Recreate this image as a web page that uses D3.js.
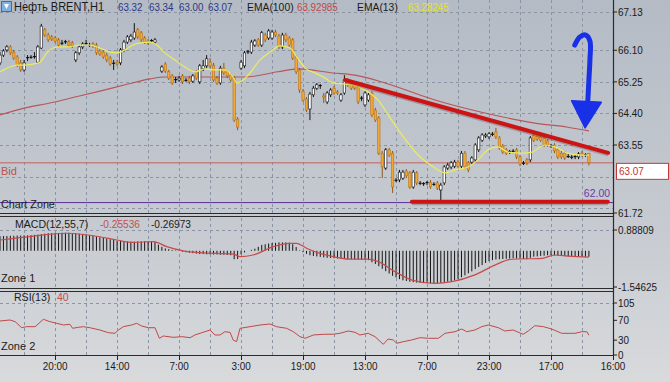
<!DOCTYPE html>
<html><head><meta charset="utf-8">
<script src="https://cdn.jsdelivr.net/npm/d3@7"></script>
<style>html,body{margin:0;padding:0;background:#c8ccd2;overflow:hidden}</style>
</head><body><svg id="c" width="670" height="382"></svg>
<script>
// ---------- DATA ----------
const opens = [65.76,65.97,66.11,66.19,66.05,65.92,65.76,65.57,65.89,65.92,
65.92,65.78,66.16,66.65,66.51,66.46,66.43,66.38,66.30,66.32,
66.32,66.30,65.84,66.03,66.19,66.27,66.24,66.27,66.24,66.08,
66.05,65.97,65.89,65.76,65.78,65.76,66.11,66.32,66.38,66.43,
66.65,66.57,66.43,66.35,66.35,66.32,null,65.54,65.73,65.52,
65.41,65.30,65.30,65.41,65.30,65.35,65.27,65.52,65.25,65.60,
65.68,65.78,65.70,65.35,65.22,65.62,65.52,65.43,65.35,64.25,
65.62,65.68,66.05,66.05,66.24,66.38,66.24,66.51,66.43,66.43,
66.59,66.48,66.19,66.51,66.43,66.38,65.92,65.57,65.00,64.79,
64.52,64.90,65.08,65.14,64.87,64.71,64.90,65.08,64.98,64.76,
64.95,65.30,65.22,65.19,65.11,64.82,64.63,64.76,64.95,64.49,
64.28,63.33,62.93,63.42,63.33,62.61,62.61,62.66,62.85,62.80,
62.42,62.80,62.53,62.50,62.53,62.55,62.50,62.53,62.34,62.53,
62.93,62.96,62.98,63.09,62.98,63.33,63.07,63.09,63.15,63.42,
63.68,63.79,63.77,63.85,63.90,63.74,63.52,63.42,63.36,63.39,
63.42,63.23,63.07,63.15,63.15,63.82,63.79,63.77,63.74,63.66,
63.52,63.55,63.42,63.33,63.33,63.25,63.23,63.23,63.23,63.33,
63.28,63.32];
const closes = [65.97,66.08,66.19,66.03,65.89,65.70,65.57,65.76,65.90,65.91,
65.93,66.19,66.75,66.51,66.38,66.40,66.35,66.24,66.29,66.33,
66.24,66.22,66.03,66.19,66.27,66.28,66.23,66.22,66.03,66.00,
65.92,65.84,65.73,65.75,65.73,66.11,66.32,66.46,66.48,66.59,
66.46,66.38,66.32,66.30,66.36,66.38,null,65.65,65.54,65.35,
65.22,65.31,65.35,65.25,65.29,65.25,65.41,65.35,65.68,65.68,
65.87,65.68,65.30,65.22,65.62,65.49,65.41,65.30,64.22,64.03,
65.78,66.03,66.06,66.32,66.35,66.24,66.57,66.38,66.62,66.59,
66.51,66.19,66.51,66.38,66.24,65.89,65.52,65.03,64.76,64.49,
64.92,65.08,65.17,65.15,64.84,64.95,65.03,64.95,64.95,64.90,
65.30,65.17,65.08,65.08,64.71,64.81,64.95,64.90,64.36,64.22,
63.33,62.96,63.42,63.28,62.42,62.60,62.82,62.82,62.72,62.42,
62.82,62.53,62.52,62.51,62.54,62.42,62.49,62.39,62.47,62.96,
63.01,63.07,63.09,62.98,63.33,62.96,62.88,63.20,63.55,63.74,
63.82,63.82,63.85,63.84,63.77,63.47,63.36,63.33,63.37,63.38,
63.23,63.04,63.06,63.07,63.74,63.68,63.71,63.68,63.55,63.55,
63.53,63.39,63.23,63.23,63.20,63.24,63.22,63.24,63.31,63.28,
63.29,63.07];
const highs = [66.05,66.13,66.24,66.24,66.11,65.97,65.84,65.84,65.97,65.97,
66.05,66.24,66.81,66.70,66.57,66.51,66.48,66.43,66.38,66.38,
66.38,66.35,66.08,66.24,66.32,66.38,66.30,66.32,66.30,66.13,
66.11,66.03,65.95,65.84,65.84,66.16,66.38,66.51,66.54,66.83,
66.70,66.62,66.48,66.40,66.40,66.43,null,65.70,65.78,65.57,
65.46,65.38,65.41,65.46,65.35,65.41,65.46,65.57,65.73,65.84,
65.97,65.89,65.76,65.41,65.68,65.76,65.57,65.49,65.41,64.30,
65.84,66.08,66.11,66.38,66.40,66.43,66.62,66.57,66.67,66.65,
66.65,66.54,66.57,66.57,66.48,66.43,65.97,65.62,65.06,64.84,
64.98,65.14,65.22,65.19,64.95,65.00,65.08,65.14,65.03,64.95,
65.43,65.35,65.27,65.25,65.17,64.87,65.00,64.95,65.00,64.55,
64.33,63.39,63.47,63.47,63.39,62.66,62.88,62.88,62.90,62.85,
62.88,62.85,62.58,62.55,62.58,62.61,62.55,62.58,62.53,63.01,
63.07,63.12,63.15,63.15,63.39,63.39,63.12,63.25,63.60,63.79,
63.87,63.87,63.90,63.90,64.01,63.79,63.58,63.47,63.42,63.44,
63.47,63.28,63.12,63.20,63.79,63.87,63.85,63.82,63.79,63.71,
63.58,63.60,63.47,63.39,63.39,63.31,63.28,63.28,63.36,63.39,
63.33,63.34];
const lows = [65.70,65.92,66.05,65.97,65.84,65.65,65.52,65.52,65.81,65.87,
65.87,65.76,66.13,66.46,66.32,66.35,66.30,66.19,66.24,66.27,
66.19,66.16,65.78,65.97,66.13,66.22,66.19,66.16,65.97,65.95,
65.87,65.78,65.68,65.57,65.68,65.70,66.05,66.27,66.32,66.38,
66.40,66.32,66.27,66.24,66.30,66.27,null,65.49,65.49,65.30,
65.17,65.22,65.25,65.19,65.25,65.19,65.22,65.30,65.19,65.54,
65.62,65.62,65.25,65.17,65.17,65.43,65.35,65.25,64.17,63.95,
65.57,65.62,66.00,66.00,66.19,66.19,66.19,66.32,66.38,66.38,
66.46,66.13,66.13,66.32,66.19,65.84,65.46,64.95,64.71,64.44,
64.22,64.84,65.03,65.06,64.68,64.65,64.84,64.90,64.90,64.71,
64.90,65.11,65.03,65.03,64.65,64.73,64.57,64.71,64.30,64.17,
63.28,62.66,62.88,63.23,62.26,62.55,62.55,62.61,62.66,62.37,
62.37,62.47,62.47,62.45,62.47,62.37,62.45,62.34,62.02,62.47,
62.88,62.90,62.93,62.93,62.93,62.90,62.82,63.04,63.09,63.36,
63.63,63.74,63.71,63.79,63.71,63.42,63.31,63.28,63.31,63.33,
63.17,62.98,63.01,63.01,63.09,63.63,63.66,63.63,63.50,63.50,
63.47,63.33,63.17,63.17,63.15,63.20,63.17,63.17,63.17,63.23,
63.23,63.00];

// EMA(13) and EMA(100), read at sample bar positions
const ema13Idx = [0,2.9,4.9,7.3,9.6,11.6,13.6,15.4,17.4,19.5,23.2,26.1,29,31.9,34,36.3,38.6,40.7,43.6,45.6,47.9,50.8,53.7,56.6,59.5,62.4,65.3,67.7,68.8,70.6,72.6,75.5,78.4,81.3,84.2,86.2,88.6,91.5,94.4,96.7,102.2,106.9,109.8,112.7,116.7,121.4,126.3,129.2,132.1,135.9,138.8,141.7,144.6,147.5,151.6,154.5,158.2,161.1,164.9,169,171];
const ema13Val = [65.52,65.65,65.70,65.70,65.73,65.78,66.03,66.16,66.19,66.19,66.24,66.24,66.16,66.05,66.03,66.11,66.24,66.30,66.32,66.24,66.03,65.84,65.65,65.52,65.60,65.57,65.57,65.38,65.22,65.30,65.49,65.84,66.05,66.22,66.16,65.92,65.62,65.49,65.35,65.22,65.17,64.98,64.76,64.36,63.82,63.28,62.93,62.80,62.88,62.96,63.15,63.42,63.50,63.36,63.33,63.36,63.55,63.50,63.33,63.28,63.28];
const ema100Idx = [0,7.3,14.5,21.8,29,36.3,43.6,48,66.2,71.1,80.7,86.5,96.7,103.1,111.8,126.3,140.8,155.3,164.9,171];
const ema100Val = [64.36,64.55,64.68,64.84,65.00,65.17,65.33,65.38,65.38,65.38,65.52,65.60,65.49,65.43,65.22,64.76,64.41,64.14,64.03,63.93];

// MACD(12,55,7): main (histogram) per bar, signal at sample positions
const macdMain = [0.62,0.63,0.63,0.64,0.64,0.65,0.65,0.66,0.66,0.67,
0.68,0.69,0.71,0.73,0.75,0.75,0.76,0.76,0.77,0.77,
0.77,0.76,0.75,0.73,0.72,0.70,0.67,0.64,0.61,0.58,
0.55,0.52,0.49,0.46,0.43,0.42,0.41,0.40,0.39,0.39,
0.40,0.40,0.41,0.41,0.40,0.39,0.26,0.17,0.10,0.07,
0.04,0.02,-0.01,-0.04,-0.06,-0.08,-0.10,-0.12,-0.14,-0.14,
-0.15,-0.15,-0.16,-0.16,-0.17,-0.17,-0.18,-0.19,-0.36,-0.35,
-0.15,-0.07,0.00,0.04,0.09,0.17,0.25,0.28,0.31,0.33,
0.34,0.36,0.36,0.36,0.35,0.28,0.16,0.02,-0.06,-0.13,
-0.19,-0.22,-0.24,-0.26,-0.28,-0.30,-0.31,-0.32,-0.33,-0.34,
-0.35,-0.36,-0.36,-0.37,-0.37,-0.38,-0.38,-0.40,-0.49,-0.56,
-0.66,-0.77,-0.87,-0.97,-1.07,-1.14,-1.21,-1.26,-1.29,-1.32,
-1.34,-1.36,-1.37,-1.38,-1.38,-1.39,-1.39,-1.38,-1.37,-1.34,
-1.32,-1.29,-1.25,-1.20,-1.13,-1.05,-0.96,-0.88,-0.78,-0.69,
-0.61,-0.52,-0.44,-0.40,-0.37,-0.36,-0.35,-0.34,-0.33,-0.32,
-0.33,-0.34,-0.35,-0.36,-0.30,-0.25,-0.24,-0.22,-0.21,-0.19,
-0.19,-0.20,-0.21,-0.22,-0.23,-0.24,-0.24,-0.25,-0.25,-0.25,
-0.26,-0.255];
const sigIdx = [0,9.7,19.4,29,33.9,38.7,44.5,48.4,53.2,58,67.8,69.7,73.5,79.4,84.2,86.1,89,92.9,96.8,102,106.8,109.8,114.7,119.6,126.3,131.2,137.9,143.7,148.6,157.4,161.1,165,171];
const sigVal = [0.46,0.63,0.75,0.60,0.46,0.36,0.39,0.18,0.0,-0.08,-0.14,-0.25,-0.18,0.18,0.32,0.32,0.11,-0.11,-0.25,-0.36,-0.36,-0.46,-0.89,-1.25,-1.39,-1.32,-1.03,-0.61,-0.36,-0.32,-0.18,-0.23,-0.27];

// RSI(13)
const rsiIdx = [0,2.9,4.4,6.3,7.7,10.2,12.6,14.5,16.5,18.4,20.3,21.1,22.7,24.2,26.1,29,31.5,33.4,34.4,35.8,38.2,39.7,41.1,43.1,45,46.3,47.4,50.3,52.8,55.2,56.6,58.6,61,62.4,63.9,65.3,66.8,67.7,68.7,69.7,72.6,75.5,78.4,80.3,83.2,85.2,87.1,88.6,91,93.9,96.8,98.7,101.1,103.1,104.5,106.9,108.9,111.3,112.7,114.2,115.2,117.1,119.5,122,124.4,127.3,129.2,132.1,134.1,135.5,137.9,139.9,141.8,144.7,146.6,149,151.9,153.4,155.3,157.8,160.2,163.1,167,168.9,170.4,171];
const rsiVal = [68.7,70.7,67.3,55.1,57.2,57.2,72.1,67.3,64,60.6,62,53.9,55.9,57.2,55.1,50.5,45,43.8,50.5,57.2,60.6,64,58.6,55.1,55.1,33.7,38.4,35.7,37,35,40.4,45,50.5,40.4,40.4,47,45.8,30.3,26.9,53.9,57.2,60.6,62.6,57.2,53.9,47,37,33.7,40.4,41.8,42,43.8,48.5,45.8,40.4,43.8,37,21.6,32.3,30.3,23.6,26.9,30.3,35,33.7,33.7,43.8,47,52.5,47,50.5,57.2,60.6,55.1,48.5,50.5,41.8,48.5,59.2,57.2,52.5,43.8,43.8,47,47,40];

// axes / labels
const priceTicks = [67.13,66.10,65.25,64.40,63.55,61.72];
const priceGrid = [67.13,66.10,65.25,64.40,63.55,62.70,61.85];
const macdTicks = [0.88809,-1.54625];
const macdTickLabels = ["0.88809","-1.54625"];
const rsiTicks = [105,70,30,0];
const timeLabels = ["20:00","14:00","7:00","3:00","19:00","13:00","7:00","23:00","17:00","16:00"];
const timeIdx = [16,34,52,70,88,106,124,142,160,178];
const bidPrice = 63.07, zonePrice = 62.00;
const ema100Last = "63.92985", ema13Last = "63.28245";
const macdLast = "-0.25536", signalLast = "-0.26973", rsiLast = "40";
// annotations (bar index, price)
const trendLine = [[100.2,65.30],[176.6,63.34]];
const supportLine = [[119.6,62.02],[176.5,62.02]];
const arrowShaft = [[166.9,66.24],[168.4,66.46],[170.1,66.51],[171.3,66.35],[171.3,65.84],[171.0,65.30],[170.7,64.76]];
const arrowHead = [[166.0,64.74],[174.6,64.70],[169.9,64.01]];

// ---------- RENDER ----------
const W=670,H=382, AX=613;
const FONT="'Liberation Sans', Arial, sans-serif";
const svg=d3.select('#c');
const defs=svg.append('defs');
const gr=defs.append('linearGradient').attr('id','bg').attr('x1',0).attr('y1',0).attr('x2',0).attr('y2',1);
gr.append('stop').attr('offset','0%').attr('stop-color','#b4bbc5');
gr.append('stop').attr('offset','60%').attr('stop-color','#c7cbd1');
gr.append('stop').attr('offset','100%').attr('stop-color','#d8dadc');
svg.append('rect').attr('width',W).attr('height',H).attr('fill','url(#bg)');
defs.append('clipPath').attr('id','cm').append('rect').attr('x',0).attr('y',0).attr('width',AX).attr('height',213);
defs.append('clipPath').attr('id','cd').append('rect').attr('x',0).attr('y',218).attr('width',AX).attr('height',70);
defs.append('clipPath').attr('id','cr').append('rect').attr('x',0).attr('y',292).attr('width',AX).attr('height',63);

const x=d3.scaleLinear().domain([0,178]).range([0,AX]);
const yP=d3.scaleLinear().domain([61.72,67.13]).range([213,12]);
const yM=d3.scaleLinear().domain([-1.54625,0.88809]).range([287,230]);
const yR=d3.scaleLinear().domain([0,105]).range([355,303]);

function label(p,tx,ty,s,fill,anchor,size,sx){
  return p.append('text').attr('transform',`translate(${tx},${ty}) scale(${sx||0.9},1)`)
    .attr('text-anchor',anchor||'start').attr('font-family',FONT).attr('font-size',size||11)
    .attr('fill',fill||'#1a1a1a').text(s);
}
const crisp=v=>Math.round(v)+0.5;

// grid
const gridC='#8a94a2';
const vIdx=d3.range(7,179,9);
const grid=svg.append('g').attr('stroke',gridC).attr('stroke-dasharray','3,3').attr('stroke-width',1);
[[0,213],[218,288],[292,355]].forEach(([a,b])=>{
  grid.selectAll(null).data(vIdx.filter(i=>i<178)).enter().append('line')
    .attr('x1',d=>crisp(x(d))).attr('x2',d=>crisp(x(d))).attr('y1',a).attr('y2',b);
});
grid.selectAll(null).data(priceGrid).enter().append('line')
  .attr('x1',0).attr('x2',AX).attr('y1',d=>crisp(yP(d))).attr('y2',d=>crisp(yP(d)));
grid.append('line').attr('x1',0).attr('x2',AX).attr('y1',crisp(yM(macdTicks[0]))).attr('y2',crisp(yM(macdTicks[0])));
grid.append('line').attr('x1',0).attr('x2',AX).attr('y1',crisp(yR(105))).attr('y2',crisp(yR(105)));

// main panel
const main=svg.append('g').attr('clip-path','url(#cm)');
main.append('line').attr('x1',0).attr('x2',AX).attr('y1',yP(bidPrice)).attr('y2',yP(bidPrice)).attr('stroke','#c46060').attr('stroke-width',1);
main.append('line').attr('x1',0).attr('x2',AX).attr('y1',yP(zonePrice)).attr('y2',yP(zonePrice)).attr('stroke','#5a2a9a').attr('stroke-width',1);

const ema100=ema100Idx.map((d,i)=>[d,ema100Val[i]]);
const ema13=ema13Idx.map((d,i)=>[d,ema13Val[i]]);
const lineP=d3.line().x(d=>x(d[0])).y(d=>yP(d[1])).curve(d3.curveMonotoneX);
main.append('path').attr('d',lineP(ema100)).attr('fill','none').attr('stroke','#b54a4e').attr('stroke-width',1.1).attr('opacity',0.9);

// candles
const candles=opens.map((o,i)=>({i,o,h:highs[i],l:lows[i],c:closes[i]})).filter(d=>d.o!=null);
const cg=main.append('g');
candles.forEach(d=>{
  const cx=x(d.i);
  const doji=Math.abs(d.o-d.c)<0.015;
  const bull=d.c>d.o;
  const wc=doji?'#111':(bull?'#111':'#8a5a1c');
  cg.append('line').attr('x1',cx).attr('x2',cx).attr('y1',yP(d.h)).attr('y2',yP(d.l)).attr('stroke',wc).attr('stroke-width',1);
  if(doji){
    cg.append('line').attr('x1',cx-1.5).attr('x2',cx+1.5).attr('y1',yP(d.c)).attr('y2',yP(d.c)).attr('stroke','#111').attr('stroke-width',1.2);
  } else {
    const top=yP(Math.max(d.o,d.c)), bot=yP(Math.min(d.o,d.c));
    cg.append('rect').attr('x',cx-1.2).attr('width',2.4).attr('y',top).attr('height',Math.max(0.8,bot-top))
      .attr('fill',bull?'#ffffff':'#f2a636').attr('stroke',bull?'#111':'#b97418').attr('stroke-width',0.6);
  }
});
main.append('path').attr('d',lineP(ema13)).attr('fill','none').attr('stroke','#ecec5c').attr('stroke-width',1.2);

// annotations
const lineL=d3.line().x(d=>x(d[0])).y(d=>yP(d[1]));
[trendLine,supportLine].forEach(L=>{
  svg.append('path').attr('d',lineL(L)).attr('transform','translate(0,1.5)').attr('stroke','rgba(60,20,20,0.25)').attr('stroke-width',4).attr('fill','none');
  svg.append('path').attr('d',lineL(L)).attr('stroke','#cc1414').attr('stroke-width',4).attr('fill','none').attr('stroke-linecap','round');
});
svg.append('path').attr('d',d3.line().x(d=>x(d[0])).y(d=>yP(d[1])).curve(d3.curveCatmullRom)(arrowShaft))
  .attr('stroke','#1830e8').attr('stroke-width',5).attr('fill','none').attr('stroke-linecap','round');
svg.append('path').attr('d',lineL(arrowHead)+'Z').attr('fill','#1830e8').attr('stroke','#1830e8').attr('stroke-width',1.5).attr('stroke-linejoin','round');

// main texts
label(svg,1,175,'Bid','#c0504d',null,11,1);
label(svg,1,208,'Chart Zone','#1a1a1a',null,11,0.98);
label(svg,610,197,zonePrice.toFixed(2),'#6a3aa8','end',11,0.95);

// MACD panel
const md=svg.append('g').attr('clip-path','url(#cd)');
md.selectAll(null).data(macdMain).enter().append('line')
  .attr('x1',(d,i)=>x(i)).attr('x2',(d,i)=>x(i)).attr('y1',yM(0)).attr('y2',d=>yM(d))
  .attr('stroke','#141414').attr('stroke-width',1);
const sig=sigIdx.map((d,i)=>[d,sigVal[i]]);
md.append('path').attr('d',d3.line().x(d=>x(d[0])).y(d=>yM(d[1])).curve(d3.curveMonotoneX)(sig))
  .attr('fill','none').attr('stroke','#c84a4a').attr('stroke-width',1.2);
label(svg,15,228,'MACD(12,55,7)','#1a1a1a',null,11,0.96);
label(svg,100,228,macdLast,'#c0504d',null,11,0.92);
label(svg,151,228,signalLast,'#1a1a1a',null,11,0.92);
label(svg,1,282,'Zone 1','#1a1a1a',null,11,1);

// RSI panel
const rs=svg.append('g').attr('clip-path','url(#cr)');
const rsi=rsiIdx.map((d,i)=>[d,rsiVal[i]]);
rs.append('path').attr('d',d3.line().x(d=>x(d[0])).y(d=>yR(d[1]))(rsi))
  .attr('fill','none').attr('stroke','#c04848').attr('stroke-width',1);
label(svg,14,301,'RSI(13)','#1a1a1a',null,11,0.96);
label(svg,57,301,rsiLast,'#c0504d',null,11,0.95);
label(svg,1,350,'Zone 2','#1a1a1a',null,11,1);

// separators
const sep=svg.append('g').attr('stroke','#2b2b2b');
[213.5,216.5,288.5,291.5,355.5].forEach(y=>sep.append('line').attr('x1',0).attr('x2',AX).attr('y1',y).attr('y2',y).attr('stroke-width',1.2));
sep.append('line').attr('x1',AX+0.5).attr('x2',AX+0.5).attr('y1',0).attr('y2',356).attr('stroke-width',1.2);

const ax=svg.append('g');
priceTicks.forEach(p=>{
  ax.append('line').attr('x1',AX).attr('x2',AX+4).attr('y1',yP(p)).attr('y2',yP(p)).attr('stroke','#222');
  label(ax,AX+5,yP(p)+4,p.toFixed(2),'#1a1a1a');
});
macdTicks.forEach((p,i)=>{
  ax.append('line').attr('x1',AX).attr('x2',AX+4).attr('y1',yM(p)).attr('y2',yM(p)).attr('stroke','#222');
  label(ax,AX+5,yM(p)+4,macdTickLabels[i],'#1a1a1a');
});
rsiTicks.forEach(p=>{
  ax.append('line').attr('x1',AX).attr('x2',AX+4).attr('y1',yR(p)).attr('y2',yR(p)).attr('stroke','#222');
  label(ax,AX+5,yR(p)+4,String(p),'#1a1a1a');
});
ax.append('rect').attr('x',616.5).attr('y',yP(bidPrice)+0.5).attr('width',52).attr('height',16).attr('fill','#ffffff').attr('stroke','#c03838');
label(ax,619,yP(bidPrice)+12.5,bidPrice.toFixed(2),'#c03030');

timeIdx.forEach((t,i)=>{
  ax.append('line').attr('x1',crisp(x(t))).attr('x2',crisp(x(t))).attr('y1',356).attr('y2',360).attr('stroke','#222');
  label(ax,x(t),370,timeLabels[i],'#1a1a1a','middle');
});

// title
const ic=svg.append('g');
ic.append('rect').attr('x',1.5).attr('y',1.5).attr('width',10).attr('height',10).attr('fill','#7fb0e0').attr('stroke','#3b6fae');
ic.append('path').attr('d','M4,4 L9,4 L6.5,9 Z').attr('fill','#ffffff');
label(svg,14,11,'Нефть BRENT,H1','#1a1a1a',null,12,0.92);
const last=closes.length-1;
const navy='#2b3588';
label(svg,118,11,opens[last].toFixed(2),navy,null,11.5,0.85);
label(svg,149,11,highs[last].toFixed(2),navy,null,11.5,0.85);
label(svg,179,11,lows[last].toFixed(2),navy,null,11.5,0.85);
label(svg,208,11,closes[last].toFixed(2),navy,null,11.5,0.85);
label(svg,247,11,'EMA(100)','#1a1a1a',null,11.5,0.9);
label(svg,297,11,ema100Last,'#c04848',null,11.5,0.85);
label(svg,357,11,'EMA(13)','#1a1a1a',null,11.5,0.9);
label(svg,408,11,ema13Last,'#e2e232',null,11.5,0.85);
</script></body></html>
